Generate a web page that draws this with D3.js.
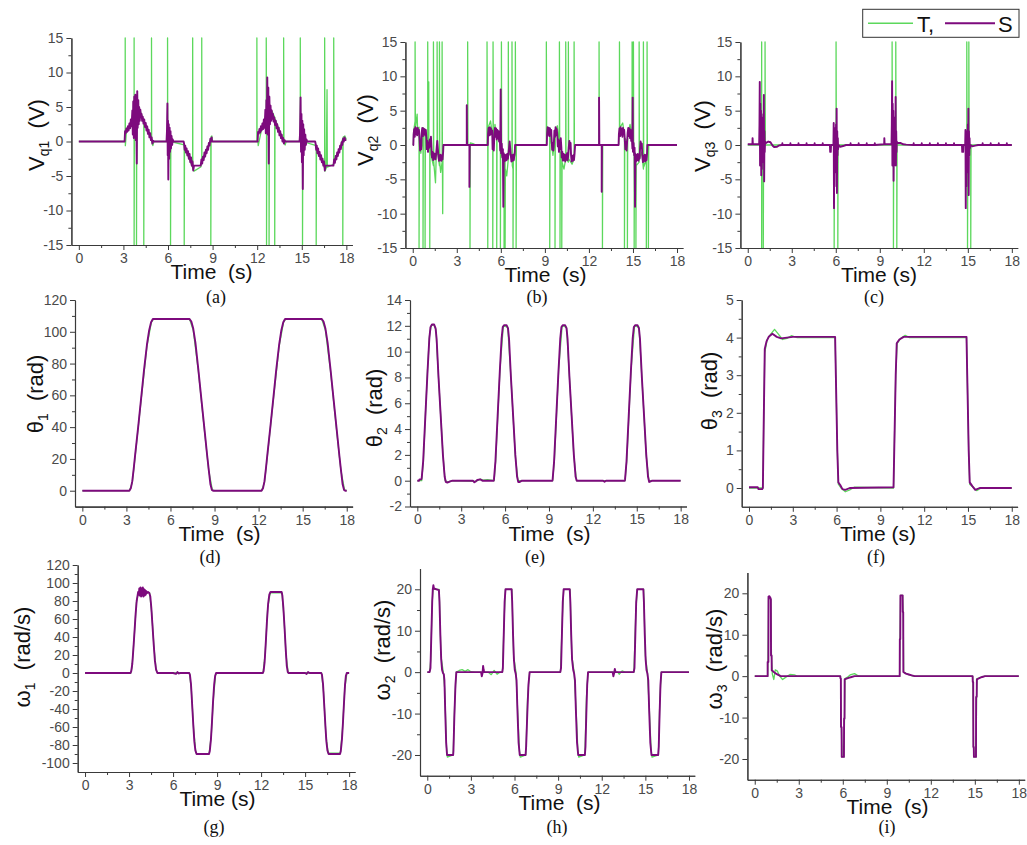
<!DOCTYPE html>
<html>
<head>
<meta charset="utf-8">
<script src="https://cdn.jsdelivr.net/npm/d3@7"></script>
<style>
  body { margin: 0; background: #fff; }
  svg { display: block; }
  text { font-family: "Liberation Sans", Arial, sans-serif; }
</style>
</head>
<body>
<svg id="chart" width="1027" height="845"></svg>
<script>
// ---------- tick labels ----------
const timeTicks = [0, 3, 6, 9, 12, 15, 18];
const timeMinor = [1.5, 4.5, 7.5, 10.5, 13.5, 16.5];
const voltTicks = [-15, -10, -5, 0, 5, 10, 15];
const voltMinor = [-12.5, -7.5, -2.5, 2.5, 7.5, 12.5];
const theta1Ticks = [0, 20, 40, 60, 80, 100, 120];
const theta1Minor = [10, 30, 50, 70, 90, 110];
const theta2Ticks = [-2, 0, 2, 4, 6, 8, 10, 12, 14];
const theta2Minor = [-1, 1, 3, 5, 7, 9, 11, 13];
const theta3Ticks = [0, 1, 2, 3, 4, 5];
const theta3Minor = [0.5, 1.5, 2.5, 3.5, 4.5];
const omega1Ticks = [-100, -80, -60, -40, -20, 0, 20, 40, 60, 80, 100, 120];
const omega1Minor = [-90, -70, -50, -30, -10, 10, 30, 50, 70, 90, 110];
const omegaTicks = [-20, -10, 0, 10, 20];
const omegaMinor = [-15, -5, 5, 15];

// ---------- series: [time (s), value] ----------
// (a) Vq1
const vq1Sim = [[0,0],[3.08,0],[3.11,1.5],[3.15,1.2],[3.2,1.9],[3.25,1.4],[3.3,2.2],[3.35,1.6],[3.4,2.6],[3.45,1.9],[3.5,3.2],[3.55,2.2],[3.6,4.5],[3.63,1.0],[3.66,5.8],[3.7,0.5],[3.73,6.5],[3.76,1.5],[3.8,6.8],[3.83,0.2],[3.86,5.5],[3.9,-3.2],[3.93,7.3],[3.96,2.0],[4.0,6.0],[4.03,2.5],[4.06,5.0],[4.1,3.0],[4.14,4.6],[4.18,3.5],[4.22,4.0],[4.26,3.0],[4.3,3.6],[4.35,2.6],[4.4,3.2],[4.45,2.1],[4.5,2.7],[4.55,1.6],[4.6,2.2],[4.65,1.1],[4.7,1.7],[4.75,0.6],[4.8,1.2],[4.85,0.2],[4.9,0.6],[4.95,-0.3],[5.0,0.1],[5.05,0],
  [5.9,0],[5.93,1.5],[5.96,5.5],[5.98,-2.0],[6.0,3.0],[6.02,-5.5],[6.05,2.5],[6.08,-2.5],[6.11,2.0],[6.14,-1.5],[6.17,1.5],[6.2,-1.0],[6.24,0.8],[6.28,-0.5],[6.32,0.3],[6.36,0],
  [7.05,0],[7.08,-0.3],[7.12,-1.2],[7.16,-0.6],[7.2,-1.6],[7.25,-1.0],[7.3,-2.0],[7.35,-1.4],[7.4,-2.5],[7.45,-1.8],[7.5,-3.0],[7.55,-2.3],[7.6,-3.5],[7.65,-2.9],[7.7,-4.2],[7.75,-3.5],[8.2,-3.5],[8.25,-2.6],[8.3,-3.2],[8.35,-2.2],[8.4,-2.7],[8.45,-1.6],[8.5,-2.2],[8.55,-1.2],[8.6,-1.7],[8.65,-0.7],[8.7,-1.2],[8.75,-0.2],[8.8,-0.6],[8.85,0.4],[8.9,0.0],[8.94,0.6],[8.96,0],
  [12.03,0],[12.06,1.4],[12.1,1.1],[12.15,1.8],[12.2,1.3],[12.25,2.2],[12.3,1.6],[12.35,2.6],[12.4,1.8],[12.45,3.2],[12.5,2.0],[12.55,4.6],[12.58,1.2],[12.62,6.0],[12.65,2.0],[12.68,9.3],[12.71,1.0],[12.75,7.8],[12.78,-3.2],[12.82,6.5],[12.86,2.5],[12.9,5.2],[12.94,3.0],[12.98,4.5],[13.02,3.3],[13.06,4.0],[13.1,2.9],[13.15,3.5],[13.2,2.4],[13.25,3.0],[13.3,1.9],[13.35,2.5],[13.4,1.4],[13.45,2.0],[13.5,0.9],[13.55,1.5],[13.6,0.5],[13.65,1.0],[13.7,0.0],[13.75,0.5],[13.8,-0.3],[13.85,0.2],[13.9,0],
  [14.85,0],[14.88,1.0],[14.92,6.4],[14.95,-1.5],[14.98,4.0],[15.01,-3.0],[15.04,3.0],[15.07,-6.9],[15.1,2.5],[15.13,-2.0],[15.16,1.8],[15.2,-1.2],[15.24,1.0],[15.28,-0.5],[15.32,0.3],[15.36,0],
  [15.9,0],[15.93,-0.3],[15.97,-1.2],[16.01,-0.6],[16.05,-1.7],[16.1,-1.0],[16.15,-2.1],[16.2,-1.5],[16.25,-2.6],[16.3,-2.0],[16.35,-3.0],[16.4,-2.5],[16.45,-3.5],[16.5,-2.9],[16.55,-4.2],[16.6,-3.5],[17.13,-3.5],[17.18,-2.6],[17.23,-3.1],[17.28,-2.1],[17.33,-2.6],[17.38,-1.6],[17.43,-2.1],[17.48,-1.1],[17.53,-1.6],[17.58,-0.6],[17.63,-1.1],[17.68,-0.1],[17.73,-0.5],[17.78,0.4],[17.83,0.0],[17.87,0.6],[17.95,0.2],[18,0.2]];
const vq1Test = [[0,0],[3.08,0],[3.12,0],[3.12,15],[3.13,-0.6],[3.2,1.4],[3.4,2.2],[3.6,3.2],[3.72,3.5],[3.72,15],[3.72,-15],[3.74,3.8],[3.88,4.0],[3.88,-15],[3.9,4.2],[4.1,4.6],[4.37,3.0],[4.37,-15],[4.39,2.8],[4.6,1.9],[4.89,0.2],[4.89,15],[4.9,0.0],[4.98,-0.6],[5.05,0],[5.97,0],[5.97,15],[5.98,0.5],[6.17,0],[6.17,-15],[6.19,0],[7.09,-0.5],[7.09,-15],[7.11,-0.8],[7.4,-2.4],[7.66,-3.8],[7.66,15],[7.67,-4.0],[7.75,-4.3],[8.2,-3.7],[8.27,-3.0],[8.27,15],[8.28,-3.1],[8.6,-1.3],[8.88,0.4],[8.88,-15],[8.9,0.7],[8.95,0.8],[9.0,0],[11.98,0],[11.98,15],[11.99,0],[12.05,0],[12.07,-0.6],[12.3,1.8],[12.61,4.0],[12.61,15],[12.63,4.0],[12.63,-15],[12.65,4.2],[12.8,4.5],[12.8,-15],[12.82,4.4],[13.0,4.4],[13.18,3.5],[13.18,-15],[13.2,3.3],[13.5,1.6],[13.78,0.1],[13.78,15],[13.8,-0.2],[13.88,-0.5],[13.95,0],[14.9,0],[14.9,15],[14.92,0.5],[15.05,0],[15.05,-15],[15.07,0],[15.97,-0.6],[15.97,-15],[15.99,-0.8],[16.3,-2.3],[16.54,-3.9],[16.54,15],[16.56,-4.3],[16.65,-3.8],[16.7,7.5],[16.72,-3.7],[17.15,-3.3],[17.15,15],[17.17,-3.0],[17.5,-1.3],[17.76,0.4],[17.76,-15],[17.78,0.6],[17.9,0.8],[18,0.3]];

// (b) Vq2
const vq2Sim = [[0,0],[0.04,0],[0.06,1.5],[0.1,2.3],[0.14,1.2],[0.18,2.6],[0.22,1.6],[0.26,2.4],[0.3,1.4],[0.34,2.5],[0.38,1.7],[0.42,2.2],[0.46,1.0],[0.5,-0.8],[0.54,0.5],[0.58,-0.6],[0.61,1.8],[0.65,2.5],[0.69,1.3],[0.73,2.4],[0.77,1.6],[0.81,2.3],[0.85,1.4],[0.89,2.2],[0.93,1.0],[0.96,-0.6],[1.0,0.6],[1.04,-1.0],[1.08,0.3],[1.12,-0.4],[1.16,0.8],[1.2,-0.2],[1.24,1.2],[1.28,-0.6],[1.31,-1.8],[1.35,-1.0],[1.39,-2.2],[1.43,-1.2],[1.47,-2.0],[1.51,-1.3],[1.55,-2.1],[1.59,-1.4],[1.63,-0.4],[1.67,0.6],[1.71,-0.5],[1.75,-1.6],[1.79,-2.3],[1.83,-1.5],[1.87,-2.2],[1.91,-1.4],[1.95,-2.3],[1.99,-1.6],[2.03,-2.1],[2.07,-1.0],[2.09,0],
  [3.68,0],[3.68,5.8],[3.7,0],[3.86,0],[3.86,-6.1],[3.88,0],
  [5.11,0],[5.13,1.6],[5.17,2.5],[5.21,1.4],[5.25,2.6],[5.29,1.5],[5.33,2.4],[5.37,1.6],[5.41,2.1],[5.44,-0.6],[5.48,0.4],[5.52,-0.8],[5.56,1.6],[5.6,2.5],[5.64,1.2],[5.68,2.4],[5.72,0.8],[5.76,2.2],[5.8,1.0],[5.84,2.0],[5.88,0.5],[5.92,1.5],[5.96,-0.8],[5.99,8.1],[6.02,-1.2],[6.06,0.2],[6.1,-1.8],[6.14,-0.6],[6.17,-9.0],[6.2,-1.2],[6.24,-2.4],[6.28,-1.5],[6.32,-2.3],[6.36,-1.4],[6.4,-2.2],[6.44,-1.3],[6.48,-2.0],[6.52,-1.2],[6.56,-0.4],[6.6,0.5],[6.64,-0.5],[6.68,-1.5],[6.72,-2.4],[6.76,-1.5],[6.8,-2.3],[6.84,-1.4],[6.88,-2.2],[6.92,-1.5],[6.95,-1.0],[6.97,0],
  [9.13,0],[9.15,1.6],[9.19,2.6],[9.23,1.5],[9.27,2.5],[9.31,1.3],[9.35,2.4],[9.39,1.6],[9.43,2.2],[9.46,0.8],[9.5,-0.7],[9.54,0.3],[9.58,-0.8],[9.62,0.6],[9.65,2.1],[9.69,1.2],[9.73,2.6],[9.77,1.4],[9.81,2.3],[9.85,1.3],[9.88,-0.2],[9.92,0.8],[9.96,-1.0],[10.0,0.6],[10.04,-0.6],[10.08,1.0],[10.12,-0.3],[10.15,-1.8],[10.19,-1.0],[10.23,-2.3],[10.27,-1.3],[10.31,-2.2],[10.35,-1.4],[10.39,-2.4],[10.43,-1.5],[10.47,-2.1],[10.51,-1.2],[10.55,-2.2],[10.59,-1.4],[10.63,-0.3],[10.67,0.6],[10.71,-0.5],[10.75,0.3],[10.78,-1.4],[10.82,-2.4],[10.86,-1.6],[10.9,-2.3],[10.94,-1.5],[10.98,-2.2],[11.02,-1.3],[11.06,0],
  [12.69,0],[12.69,6.9],[12.71,0],[12.87,0],[12.87,-6.8],[12.89,0],
  [14.02,0],[14.04,1.5],[14.08,2.4],[14.12,1.3],[14.16,2.6],[14.2,1.5],[14.24,2.3],[14.28,1.2],[14.32,2.5],[14.36,1.6],[14.4,2.2],[14.44,0.8],[14.48,-0.6],[14.52,0.4],[14.56,-0.8],[14.6,0.5],[14.64,1.8],[14.68,2.5],[14.72,1.3],[14.76,2.4],[14.8,1.0],[14.84,2.2],[14.88,0.6],[14.92,1.6],[14.96,-0.5],[14.98,6.9],[15.0,-1.0],[15.04,0.3],[15.08,-1.5],[15.11,-0.4],[15.14,-9.0],[15.17,-1.3],[15.21,-2.4],[15.25,-1.5],[15.29,-2.2],[15.33,-1.3],[15.37,-2.3],[15.41,-1.4],[15.45,-2.0],[15.48,-0.6],[15.52,0.5],[15.56,-0.4],[15.6,0.2],[15.64,-1.6],[15.68,-2.5],[15.72,-1.6],[15.76,-2.3],[15.8,-1.4],[15.84,-2.4],[15.88,-1.5],[15.92,-2.2],[15.96,-1.2],[15.98,0],[18,0]];
const vq2Test = [[0,0],[0.04,0],[0.06,2],[0.16,3.5],[0.16,15],[0.18,2.5],[0.3,4.5],[0.34,1.5],[0.43,2.6],[0.43,-15],[0.45,1.8],[0.55,-1.2],[0.7,1.5],[0.7,-15],[0.72,2.5],[0.84,2.0],[0.84,-15],[0.86,1.6],[1.02,0.5],[1.02,15],[1.04,-0.5],[1.09,9.2],[1.1,-0.5],[1.16,0.3],[1.16,-15],[1.18,0.5],[1.3,-2.0],[1.41,-3.0],[1.41,15],[1.43,-2.5],[1.55,-5.5],[1.6,-1.5],[1.66,-1.0],[1.66,15],[1.68,-0.8],[1.82,-3.0],[1.82,15],[1.84,-2.5],[1.9,-4.0],[2.0,-2.5],[2.0,15],[2.02,-2.0],[2.04,-10.0],[2.06,0],[3.74,0],[3.74,15],[3.76,0],[3.9,0],[3.9,-15],[3.92,0.3],[4.1,0.2],[4.3,0],[5.06,0],[5.06,15],[5.08,1.5],[5.11,2.0],[5.11,-15],[5.13,2.5],[5.3,3.5],[5.45,1.0],[5.45,-15],[5.47,1.5],[5.47,15],[5.49,0],[5.6,3.0],[5.72,1.0],[5.72,-15],[5.74,1.5],[5.9,2.0],[5.97,1.0],[5.97,-15],[5.99,1.0],[6.04,0],[6.04,15],[6.06,-1.5],[6.22,-2.0],[6.22,-15],[6.24,-3.0],[6.29,-2.5],[6.29,-15],[6.31,-3.5],[6.4,-4.5],[6.51,-2.0],[6.51,15],[6.53,-1.0],[6.76,-2.0],[6.76,15],[6.78,-3.0],[6.83,-3.5],[6.83,-15],[6.85,-2.5],[6.99,-1.0],[6.99,15],[7.01,0],[7.04,0],[7.04,-15],[7.06,0],[9.1,0],[9.1,15],[9.12,1.5],[9.33,2.5],[9.33,-15],[9.35,2.0],[9.55,-1.5],[9.69,1.5],[9.69,-15],[9.71,2.0],[9.85,2.8],[9.99,0],[9.99,15],[10.01,-0.5],[10.03,-1],[10.03,-15],[10.05,-1],[10.15,-2.0],[10.15,-15],[10.17,-2.5],[10.3,-3.5],[10.42,-2.0],[10.42,15],[10.44,-2.0],[10.6,-2.5],[10.6,15],[10.62,-2.0],[10.85,-2.8],[10.99,-2.0],[10.99,15],[11.01,0],[12.69,0],[12.69,15],[12.71,0],[12.92,0],[12.92,-15],[12.94,0],[14.02,0],[14.08,2.0],[14.08,15],[14.1,2.5],[14.3,3.2],[14.42,1.5],[14.42,-15],[14.44,1.0],[14.62,0.5],[14.62,-15],[14.64,1.5],[14.8,3.0],[14.94,1.0],[14.94,15],[14.96,0],[15.03,0],[15.03,15],[15.05,-0.5],[15.08,-1.0],[15.08,-15],[15.1,-1.0],[15.2,-1.5],[15.2,-15],[15.22,-3.0],[15.42,-2.5],[15.42,15],[15.44,-2.0],[15.6,-1.0],[15.71,-3.5],[15.71,15],[15.73,-3.2],[15.85,-2.5],[15.91,-2.0],[15.91,-15],[15.93,-2.0],[15.96,-1.0],[15.96,15],[15.98,0],[16.05,0],[16.05,-15],[16.07,0],[18,0]];

// (c) Vq3
const vq3Sim = [[0,0.1],[0.32,0.1],[0.33,1.0],[0.35,0.1],[0.78,0.1],[0.8,3.0],[0.82,9.2],[0.84,-3.0],[0.86,6.0],[0.88,-2.5],[0.9,5.0],[0.92,-4.4],[0.94,4.0],[0.96,-3.5],[0.98,3.0],[1.0,-2.5],[1.02,2.5],[1.04,-2.0],[1.06,4.5],[1.08,-1.5],[1.1,7.3],[1.12,-5.3],[1.14,2.0],[1.16,-1.0],[1.18,0.5],[1.25,0.3],[1.4,0.5],[1.55,0.4],[1.7,-0.1],[1.8,-0.3],[2.0,-0.25],[2.1,-0.1],[2.3,0],[2.35,0],[2.36,0.25],[2.37,0],[2.9,0],[2.91,0.25],[2.92,0],[3.45,0],[3.46,0.25],[3.47,0],[4.0,0],[4.01,0.25],[4.02,0],[4.55,0],[4.56,0.25],[4.57,0],[5.1,0],[5.11,0.25],[5.12,0],
  [5.6,0],[5.62,-1.0],[5.66,-1.0],[5.68,0],[5.84,0],[5.86,3.2],[5.88,-9.2],[5.9,2.5],[5.92,-6.0],[5.94,2.0],[5.96,-4.0],[5.98,1.5],[6.0,-3.0],[6.02,3.0],[6.04,-2.5],[6.06,5.3],[6.08,-7.0],[6.1,2.0],[6.12,-1.5],[6.14,1.0],[6.16,-0.6],[6.18,0],[6.3,-0.25],[6.5,-0.15],[6.7,0],[7.0,0],[7.01,0.25],[7.02,0],[7.55,0],[7.56,0.25],[7.57,0],[8.1,0],[8.11,0.25],[8.12,0],[8.65,0],[8.66,0.25],[8.67,0],
  [9.3,0.1],[9.31,1.0],[9.33,0.1],[9.8,0.1],[9.82,3.0],[9.84,9.3],[9.86,-3.0],[9.88,6.0],[9.9,-2.5],[9.92,5.0],[9.94,-5.2],[9.96,4.0],[9.98,-3.0],[10.0,3.0],[10.02,-2.0],[10.04,4.0],[10.06,-1.5],[10.08,7.0],[10.1,-3.0],[10.12,2.0],[10.14,-1.0],[10.16,0.5],[10.2,0.3],[10.4,0.3],[10.6,0.1],[10.8,0.05],[11.3,0],[11.31,0.25],[11.32,0],[11.85,0],[11.86,0.25],[11.87,0],[12.4,0],[12.41,0.25],[12.42,0],[12.95,0],[12.96,0.25],[12.97,0],[13.5,0],[13.51,0.25],[13.52,0],[14.05,0],[14.06,0.25],[14.07,0],
  [14.6,0],[14.62,-1.0],[14.68,-1.0],[14.7,0],[14.82,0],[14.84,2.2],[14.86,-9.2],[14.88,2.0],[14.9,-6.0],[14.92,1.5],[14.94,-4.0],[14.96,1.5],[14.98,-3.0],[15.0,3.0],[15.02,-2.5],[15.04,5.3],[15.06,-7.3],[15.08,2.0],[15.1,-1.5],[15.12,1.0],[15.14,-0.5],[15.18,0],[15.3,-0.2],[15.5,-0.1],[15.7,0],[16.0,0],[16.01,0.25],[16.02,0],[16.55,0],[16.56,0.25],[16.57,0],[17.1,0],[17.11,0.25],[17.12,0],[17.65,0],[17.66,0.25],[17.67,0],[18,0]];
const vq3Test = [[0,0],[0.8,0],[0.95,0],[0.95,15],[0.95,-15],[0.97,0],[1.06,0],[1.06,-15],[1.08,0],[1.18,0],[1.18,15],[1.2,0],[5.89,0],[5.89,-15],[5.91,0],[6.02,0],[6.02,15],[6.04,0],[6.14,0],[6.14,-15],[6.16,0],[9.84,0],[9.84,15],[9.86,0],[9.93,0],[9.93,-15],[9.95,0],[10.09,0],[10.09,15],[10.11,0],[10.16,0],[10.16,-15],[10.18,0],[14.93,0],[14.93,15],[14.95,0],[14.98,0],[14.98,-15],[15.0,0],[15.07,0],[15.07,15],[15.09,0],[15.2,0],[15.2,-15],[15.22,0],[18,0]];

// (d) theta1
const theta1Sim = [[0,0],[3.2,0],[3.3,1.5],[3.4,6],[3.5,14],[3.6,23],[3.8,40],[4.0,58],[4.2,76],[4.4,92],[4.55,101],[4.68,106],[4.8,108],[7.3,108],[7.42,106.5],[7.55,102],[7.7,93],[7.9,76],[8.1,58],[8.3,40],[8.5,22],[8.62,12],[8.72,4],[8.82,0.5],[8.9,0],[12.2,0],[12.3,1.5],[12.4,6],[12.5,14],[12.6,23],[12.8,40],[13.0,58],[13.2,76],[13.4,92],[13.55,101],[13.68,106],[13.8,108],[16.3,108],[16.42,106.5],[16.55,102],[16.7,93],[16.9,76],[17.1,58],[17.3,40],[17.5,22],[17.62,12],[17.72,4],[17.82,0.5],[17.9,0],[18,0]];
const theta1Test = [[0,0],[3.2,0],[3.4,5],[3.6,22],[4.0,57],[4.4,91],[4.7,106],[4.85,108],[7.3,108],[7.55,101],[7.9,75],[8.3,39],[8.6,13],[8.85,0.5],[9.0,0],[12.2,0],[12.4,5],[12.6,22],[13.0,57],[13.4,91],[13.7,106],[13.85,108],[16.3,108],[16.55,101],[16.9,75],[17.3,39],[17.6,13],[17.85,0.5],[18,0]];

// (e) theta2
const theta2Sim = [[0,0],[0.12,0],[0.15,0.1],[0.28,0.1],[0.3,0.2],[0.4,1.5],[0.55,5],[0.7,8.5],[0.82,11],[0.9,11.9],[1.0,12.1],[1.15,12.1],[1.25,11.8],[1.32,11],[1.45,8],[1.6,5],[1.75,2],[1.87,0.3],[1.95,-0.1],[2.05,-0.15],[2.25,-0.05],[2.4,0],[3.8,0],[3.9,-0.12],[4.0,-0.05],[4.1,0.05],[4.3,0.1],[4.45,0],[5.22,0],[5.24,0.1],[5.34,1.5],[5.49,5],[5.64,8.5],[5.76,11],[5.84,11.9],[5.94,12.05],[6.1,12.05],[6.2,11.8],[6.27,11],[6.4,8],[6.55,5],[6.7,2],[6.82,0.3],[6.9,-0.1],[7.0,-0.1],[7.15,0],[9.23,0],[9.25,0.1],[9.35,1.5],[9.5,5],[9.65,8.5],[9.77,11],[9.85,11.9],[9.95,12.05],[10.1,12.05],[10.2,11.8],[10.27,11],[10.4,8],[10.55,5],[10.7,2],[10.82,0.3],[10.9,0],[12.7,0],[12.8,-0.08],[12.9,0],[14.18,0],[14.2,0.1],[14.3,1.5],[14.45,5],[14.6,8.5],[14.72,11],[14.8,11.9],[14.9,12.05],[15.05,12.05],[15.15,11.8],[15.22,11],[15.35,8],[15.5,5],[15.65,2],[15.77,0.3],[15.85,-0.1],[15.95,-0.05],[16.05,0],[18,0]];
const theta2Test = [[0,0],[0.3,0],[0.42,1.6],[0.56,5.2],[0.7,8.6],[0.83,11.2],[0.95,12.0],[1.12,12.1],[1.27,11.7],[1.45,8.0],[1.6,5.0],[1.76,1.9],[1.9,0.0],[2.1,-0.1],[2.4,0],[4.0,-0.05],[4.3,0.12],[4.5,0.05],[4.8,0.08],[5.25,0],[5.36,1.6],[5.65,8.6],[5.88,12.0],[6.18,11.9],[6.4,8.0],[6.7,1.9],[6.88,0],[7.2,0],[9.25,0],[9.37,1.6],[9.66,8.6],[9.9,12.0],[10.2,11.9],[10.4,8.0],[10.7,1.9],[10.88,0],[14.2,0],[14.32,1.6],[14.61,8.6],[14.85,12.0],[15.15,11.9],[15.35,8.0],[15.65,1.9],[15.83,0],[18,0]];

// (f) theta3
const theta3Sim = [[0,0.02],[0.6,0.02],[0.65,-0.03],[0.9,-0.03],[0.95,0],[1.0,1.5],[1.08,3.7],[1.2,3.9],[1.35,4.02],[1.6,4.1],[1.9,4.02],[2.2,3.98],[2.6,4.0],[3.0,4.02],[5.9,4.02],[5.95,3.0],[6.05,1.0],[6.12,0.15],[6.25,0.08],[6.4,-0.03],[6.6,-0.05],[6.9,0],[9.9,0.02],[9.95,1.0],[10.05,3.0],[10.12,3.85],[10.3,3.95],[10.6,4.02],[14.9,4.02],[14.95,3.0],[15.05,1.0],[15.12,0.15],[15.3,0.05],[15.5,-0.05],[15.8,0.0],[18,0.0]];
const theta3Test = [[0,0],[0.95,0],[1.0,1.5],[1.08,3.6],[1.25,3.95],[1.5,4.1],[1.75,4.22],[2.0,4.1],[2.3,3.95],[2.6,3.98],[2.9,4.05],[3.3,4.0],[5.9,4.0],[5.95,3.0],[6.05,1.0],[6.12,0.1],[6.3,0.0],[6.6,-0.1],[6.9,-0.05],[7.2,0.02],[9.9,0],[9.95,1.0],[10.05,3.0],[10.15,3.85],[10.4,3.98],[10.7,4.06],[11.0,4.0],[14.9,4.0],[14.95,3.0],[15.05,1.0],[15.12,0.1],[15.4,0.0],[15.6,-0.07],[15.9,0],[18,0]];

// (g) omega1
const omega1Sim = [[0,0],[3.1,0],[3.15,2],[3.22,10],[3.3,28],[3.38,48],[3.45,66],[3.52,80],[3.58,86],[3.62,90],[3.66,87],[3.7,94],[3.74,86],[3.78,95],[3.82,85],[3.86,94],[3.9,86],[3.94,95],[3.98,85],[4.02,93],[4.06,86],[4.1,92],[4.14,87],[4.18,91],[4.24,89],[4.3,90],[4.38,89],[4.45,85],[4.52,72],[4.6,52],[4.68,32],[4.76,14],[4.84,4],[4.93,0],[6.0,0],[6.2,-1],[6.3,1],[6.4,-0.5],[6.5,0],[7.1,0],[7.15,-2],[7.22,-12],[7.3,-35],[7.38,-58],[7.45,-76],[7.52,-86],[7.6,-90],[8.45,-90],[8.5,-87],[8.58,-74],[8.65,-55],[8.72,-33],[8.8,-13],[8.87,-3],[8.93,0],[12.12,0],[12.17,2],[12.24,12],[12.32,34],[12.4,58],[12.48,77],[12.56,87],[12.64,90],[13.4,90],[13.45,86],[13.52,72],[13.6,50],[13.68,26],[13.75,8],[13.82,1],[13.88,0],[15.0,0],[15.1,-1],[15.2,1],[15.3,0],[16.1,0],[16.15,-2],[16.22,-12],[16.3,-35],[16.38,-58],[16.45,-76],[16.52,-86],[16.6,-90],[17.38,-90],[17.43,-87],[17.51,-74],[17.58,-55],[17.65,-33],[17.72,-13],[17.78,-3],[17.84,0],[18,0]];
const omega1Test = [[0,0],[3.12,0],[3.2,6],[3.35,40],[3.5,78],[3.62,88],[4.0,90],[4.4,89],[4.55,66],[4.7,28],[4.85,3],[4.95,0],[7.12,0],[7.25,-20],[7.4,-62],[7.55,-88],[7.62,-90],[8.45,-90],[8.6,-70],[8.75,-28],[8.9,-2],[9.0,0],[12.13,0],[12.28,22],[12.45,72],[12.62,89],[13.42,89],[13.55,64],[13.7,20],[13.85,0],[16.12,0],[16.26,-22],[16.42,-70],[16.58,-89],[17.4,-89],[17.55,-62],[17.7,-18],[17.85,0],[18,0]];

// (h) omega2
const omega2Sim = [[0,0],[0.15,0],[0.18,0.3],[0.22,1],[0.28,9],[0.34,17],[0.38,20],[0.42,21],[0.46,20.2],[0.8,19.8],[0.84,17],[0.9,9],[0.96,3],[1.02,0.5],[1.08,-0.2],[1.14,-0.5],[1.18,-2],[1.24,-10],[1.3,-17],[1.36,-20],[1.78,-20],[1.8,-19],[1.86,-11],[1.94,-3],[2.0,0],[3.7,0],[3.75,-1.0],[3.8,-0.3],[3.84,1.5],[3.88,0.5],[3.92,0],[5.16,0],[5.2,1],[5.26,9],[5.32,17],[5.38,20],[5.8,20],[5.84,17],[5.9,9],[5.96,3],[6.02,0.5],[6.08,-0.3],[6.14,-2],[6.2,-9],[6.28,-17],[6.36,-20],[6.76,-20],[6.8,-18],[6.88,-10],[6.96,-3],[7.04,0],[9.15,0],[9.2,1],[9.26,9],[9.32,17],[9.38,20],[9.8,20],[9.84,17],[9.9,9],[9.96,3],[10.04,0.5],[10.1,-0.3],[10.16,-2],[10.22,-9],[10.3,-17],[10.38,-20],[10.84,-20],[10.88,-18],[10.94,-10],[11.0,-3],[11.06,0],[12.75,0],[12.8,-1.0],[12.85,-0.3],[12.9,0.8],[12.95,0],[14.2,0],[14.25,1],[14.31,9],[14.37,17],[14.44,20],[14.86,20],[14.9,17],[14.96,9],[15.02,3],[15.08,0.5],[15.14,-0.3],[15.2,-2],[15.26,-9],[15.34,-17],[15.42,-20],[15.88,-20],[15.92,-18],[15.98,-10],[16.04,-3],[16.1,0],[18,0]];
const omega2Test = [[0,0],[0.16,0],[0.24,3],[0.34,17],[0.4,20],[0.82,20],[0.94,4],[1.1,0],[1.2,-4],[1.32,-18],[1.38,-20.5],[1.78,-20],[1.9,-6],[2.0,0],[2.2,0.4],[2.4,0.6],[2.6,0.2],[2.8,0.6],[3.0,0.1],[3.3,0],[4.2,0],[4.4,-0.6],[4.6,0.4],[4.8,-0.5],[5.0,0],[5.17,0],[5.3,14],[5.38,20],[5.82,20],[5.94,4],[6.1,0],[6.2,-8],[6.34,-19],[6.4,-20.5],[6.78,-20],[6.9,-6],[7.04,0],[9.16,0],[9.3,14],[9.38,20],[9.82,20],[9.94,4],[10.1,0],[10.22,-8],[10.36,-19],[10.42,-20.5],[10.84,-20],[10.95,-6],[11.06,0],[13.1,0],[13.2,-0.5],[13.4,0.3],[13.6,0],[14.21,0],[14.34,14],[14.44,20],[14.88,20],[15.0,4],[15.14,0],[15.26,-8],[15.4,-19],[15.46,-20.5],[15.9,-20],[16.0,-6],[16.1,0],[18,0]];

// (i) omega3
const omega3Sim = [[0,0],[0.88,0],[0.88,3.4],[0.93,3.4],[0.94,19.2],[1.0,19.3],[1.08,18.8],[1.1,18.5],[1.11,5],[1.15,5],[1.16,1.4],[1.3,1.0],[1.45,0.6],[1.6,0.3],[1.75,0.05],[5.83,0],[5.84,-0.5],[5.87,-0.6],[5.88,-12.3],[5.92,-12.3],[5.93,-19.5],[6.08,-19.5],[6.09,-10.2],[6.12,-10.2],[6.13,-0.8],[6.25,-0.6],[6.4,-0.4],[6.6,-0.2],[6.8,0],[9.88,0],[9.89,8.9],[9.92,8.9],[9.93,19.5],[10.08,19.5],[10.09,15.5],[10.12,15.5],[10.13,1.0],[10.3,0.6],[10.5,0.4],[10.7,0.2],[10.9,0],[14.85,0],[14.86,-1.4],[14.89,-1.4],[14.9,-17.1],[14.93,-17.1],[14.94,-19.5],[15.08,-19.5],[15.09,-5],[15.13,-5],[15.14,-0.8],[15.3,-0.5],[15.5,-0.2],[15.7,0],[18,0]];
const omega3Test = [[0,0],[0.88,0],[0.9,3],[0.94,19],[1.1,18.5],[1.14,5],[1.2,0.5],[1.3,-0.8],[1.4,1.5],[1.55,1.2],[1.7,0],[1.9,-0.8],[2.1,-0.3],[2.4,0.4],[2.7,0.3],[2.9,0],[5.84,0],[5.86,-0.5],[5.9,-12],[5.95,-19.5],[6.08,-19.5],[6.12,-10],[6.15,-0.6],[6.3,-0.3],[6.5,0.3],[6.8,0.6],[7.0,0.2],[7.2,0],[9.88,0],[9.9,9],[9.94,19.5],[10.08,19.5],[10.12,15],[10.15,1],[10.4,0.5],[10.8,0],[14.85,0],[14.87,-1.5],[14.91,-17],[14.95,-19.5],[15.08,-19.5],[15.12,-5],[15.15,-0.6],[15.4,-0.3],[15.7,0],[18,0]];

// ---------- layout ----------
const COLOR_TEST = "#5cd85c";
const COLOR_SIM = "#7d0a7d";
const AXIS_COLOR = "#3a3a3a";
const TICK_TEXT = "#4a4a4a";
const timeDomain = [-0.5, 18.4];

const panels = [
  { test: vq1Test, sim: vq1Sim, left: 71.4, top: 38, width: 280.9, height: 207, yDomain: [-15, 15], ticks: voltTicks, minor: voltMinor,
    sym: "V", sub: "q1", unit: "(V)", yTitle: [44, 135], timeLabel: "Time  (s)", timeX: 211.5, cap: "(a)", capPos: [216, 303] },
  { test: vq2Test, sim: vq2Sim, left: 405.4, top: 42, width: 277.5, height: 206, yDomain: [-15, 15], ticks: voltTicks, minor: voltMinor,
    sym: "V", sub: "q2", unit: "(V)", yTitle: [373, 130], timeLabel: "Time  (s)", timeX: 545.5, cap: "(b)", capPos: [537, 303] },
  { test: vq3Test, sim: vq3Sim, left: 740.4, top: 42, width: 277.3, height: 206, yDomain: [-15, 15], ticks: voltTicks, minor: voltMinor,
    sym: "V", sub: "q3", unit: "(V)", yTitle: [710, 136], timeLabel: "Time (s)", timeX: 879, cap: "(c)", capPos: [874, 303] },
  { test: theta1Test, sim: theta1Sim, left: 75.0, top: 300, width: 277.6, height: 206.6, yDomain: [-10, 120], ticks: theta1Ticks, minor: theta1Minor,
    sym: "θ", sub: "1", unit: "(rad)", yTitle: [43, 394], timeLabel: "Time  (s)", timeX: 219.5, cap: "(d)", capPos: [210, 563] },
  { test: theta2Test, sim: theta2Sim, left: 410.0, top: 300, width: 276.5, height: 206.5, yDomain: [-2, 14], ticks: theta2Ticks, minor: theta2Minor,
    sym: "θ", sub: "2", unit: "(rad)", yTitle: [382, 408], timeLabel: "Time  (s)", timeX: 549.5, cap: "(e)", capPos: [535, 563] },
  { test: theta3Test, sim: theta3Sim, left: 741.7, top: 300, width: 275.9, height: 206.8, yDomain: [-0.5, 5], ticks: theta3Ticks, minor: theta3Minor,
    sym: "θ", sub: "3", unit: "(rad)", yTitle: [717, 391], timeLabel: "Time (s)", timeX: 878, cap: "(f)", capPos: [876, 563] },
  { test: omega1Test, sim: omega1Sim, left: 77.7, top: 565, width: 277.3, height: 207, yDomain: [-110, 120], ticks: omega1Ticks, minor: omega1Minor,
    sym: "ω", sub: "1", unit: "(rad/s)", yTitle: [30, 657], timeLabel: "Time (s)", timeX: 217.5, cap: "(g)", capPos: [214, 833] },
  { test: omega2Test, sim: omega2Sim, left: 420.0, top: 568.6, width: 274.8, height: 207.1, yDomain: [-25, 25], ticks: omegaTicks, minor: omegaMinor,
    sym: "ω", sub: "2", unit: "(rad/s)", yTitle: [390, 650], timeLabel: "Time  (s)", timeX: 559.5, cap: "(h)", capPos: [557, 833] },
  { test: omega3Test, sim: omega3Sim, left: 747.4, top: 572.6, width: 277.3, height: 207.1, yDomain: [-25, 25], ticks: omegaTicks, minor: omegaMinor,
    sym: "ω", sub: "3", unit: "(rad/s)", yTitle: [722, 659], timeLabel: "Time  (s)", timeX: 887.5, cap: "(i)", capPos: [887, 833] }
];

const svg = d3.select("#chart");
svg.append("rect").attr("width", 1027).attr("height", 845).attr("fill", "#fff");

function styleAxis(g) {
  g.select(".domain").attr("stroke", AXIS_COLOR).attr("stroke-width", 1.1);
  g.selectAll(".tick line").attr("stroke", AXIS_COLOR).attr("stroke-width", 1);
  g.selectAll(".tick text").attr("fill", TICK_TEXT).style("font-size", "14px")
    .style("font-family", '"Liberation Sans", Arial, sans-serif');
}

panels.forEach((p, i) => {
  const x = d3.scaleLinear().domain(timeDomain).range([p.left, p.left + p.width]);
  const y = d3.scaleLinear().domain(p.yDomain).range([p.top + p.height, p.top]);
  const bottom = p.top + p.height;
  const fmt = d => String(d);

  // clip region for the traces
  const clipId = "clip" + i;
  svg.append("clipPath").attr("id", clipId).append("rect")
    .attr("x", p.left).attr("y", p.top - 1).attr("width", p.width).attr("height", p.height + 1);

  const line = d3.line().x(d => x(d[0])).y(d => y(d[1]));
  const traces = svg.append("g").attr("clip-path", `url(#${clipId})`);
  traces.append("path").datum(p.test).attr("d", line)
    .attr("fill", "none").attr("stroke", COLOR_TEST).attr("stroke-width", 1.3).attr("stroke-linejoin", "round");
  traces.append("path").datum(p.sim).attr("d", line)
    .attr("fill", "none").attr("stroke", COLOR_SIM).attr("stroke-width", 1.9).attr("stroke-linejoin", "round");

  // minor ticks
  svg.append("g").attr("transform", `translate(0,${bottom})`)
    .call(d3.axisBottom(x).tickValues(timeMinor).tickSize(3).tickSizeOuter(0).tickFormat(""))
    .call(styleAxis);
  svg.append("g").attr("transform", `translate(${p.left},0)`)
    .call(d3.axisLeft(y).tickValues(p.minor).tickSize(3).tickSizeOuter(0).tickFormat(""))
    .call(styleAxis);

  // major ticks and labels
  svg.append("g").attr("transform", `translate(0,${bottom})`)
    .call(d3.axisBottom(x).tickValues(timeTicks).tickSize(5).tickPadding(3).tickSizeOuter(0).tickFormat(fmt))
    .call(styleAxis);
  svg.append("g").attr("transform", `translate(${p.left},0)`)
    .call(d3.axisLeft(y).tickValues(p.ticks).tickSize(5).tickPadding(3).tickSizeOuter(0).tickFormat(fmt))
    .call(styleAxis);

  // y-axis title (rotated, with subscript)
  const yt = svg.append("text")
    .attr("transform", `translate(${p.yTitle[0]},${p.yTitle[1]}) rotate(-90)`)
    .attr("text-anchor", "middle").attr("fill", "#111")
    .style("font-size", "22px").style("white-space", "pre");
  yt.append("tspan").text(p.sym);
  yt.append("tspan").attr("dy", 5).style("font-size", "14px").text(p.sub);
  yt.append("tspan").attr("dy", -5).text("  " + p.unit);

  // x-axis title
  svg.append("text").attr("x", p.timeX).attr("y", bottom + 34)
    .attr("text-anchor", "middle").attr("fill", "#111")
    .style("font-size", "21px").style("white-space", "pre").text(p.timeLabel);

  // panel caption
  svg.append("text").attr("x", p.capPos[0]).attr("y", p.capPos[1])
    .attr("text-anchor", "middle").attr("fill", "#111")
    .style("font-family", '"Liberation Serif", "Times New Roman", serif')
    .style("font-size", "18px").text(p.cap);
});

// legend
const legend = svg.append("g");
legend.append("rect").attr("x", 862.7).attr("y", 9.3).attr("width", 156.3).attr("height", 28)
  .attr("fill", "#fff").attr("stroke", "#333").attr("stroke-width", 1);
legend.append("line").attr("x1", 868).attr("x2", 913).attr("y1", 23.3).attr("y2", 23.3)
  .attr("stroke", COLOR_TEST).attr("stroke-width", 1.5);
legend.append("text").attr("x", 917).attr("y", 31.5).attr("fill", "#111").style("font-size", "22px").text("T,");
legend.append("line").attr("x1", 945).attr("x2", 995).attr("y1", 23.3).attr("y2", 23.3)
  .attr("stroke", COLOR_SIM).attr("stroke-width", 2);
legend.append("text").attr("x", 998).attr("y", 31.5).attr("fill", "#111").style("font-size", "22px").text("S");
</script>
</body>
</html>
